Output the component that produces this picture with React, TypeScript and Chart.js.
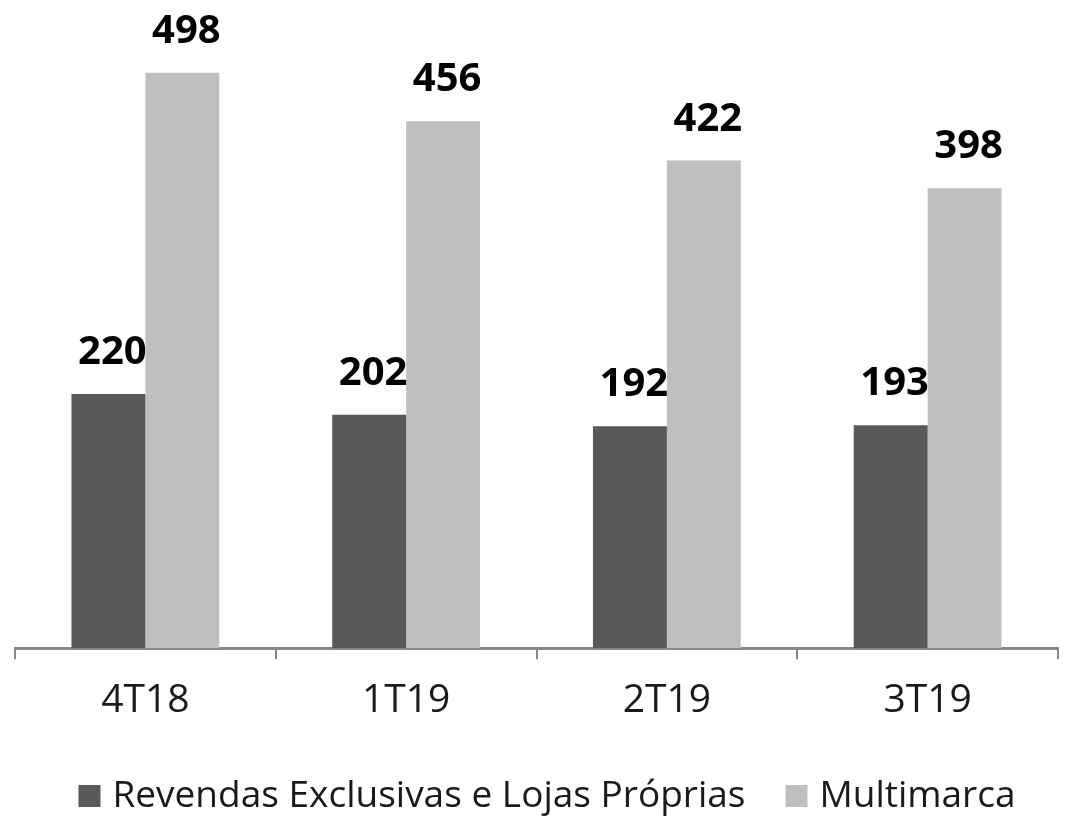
import React, { useEffect, useRef } from "react";
import { Chart, registerables } from "chart.js";

Chart.register(...registerables);

const categories = ["4T18", "1T19", "2T19", "3T19"];
const seriesNames = ["Revendas Exclusivas e Lojas Próprias", "Multimarca"];
const revendas = [220, 202, 192, 193];
const multimarca = [498, 456, 422, 398];
const colors = ["#595959", "#bfbfbf"];
const FONT = "'Open Sans', 'DejaVu Sans', sans-serif";

const valueLabels = {
  id: "valueLabels",
  afterDatasetsDraw(chart: any) {
    const ctx = chart.ctx;
    ctx.save();
    ctx.font = `bold 40px ${FONT}`;
    ctx.fillStyle = "#000000";
    ctx.textAlign = "center";
    ctx.textBaseline = "alphabetic";
    chart.data.datasets.forEach((ds: any, di: number) => {
      const meta = chart.getDatasetMeta(di);
      meta.data.forEach((bar: any, i: number) => {
        ctx.fillText(String(ds.data[i]), bar.x + 4, bar.y - 30);
      });
    });
    ctx.restore();
  },
};

const customLegend = {
  id: "customLegend",
  afterDraw(chart: any) {
    const ctx = chart.ctx;
    const box = 22;
    const gap = 12;
    const itemGap = 40;
    const cy = 796;
    ctx.save();
    ctx.font = `37px ${FONT}`;
    ctx.textBaseline = "middle";
    ctx.textAlign = "left";
    const items = chart.data.datasets.map((ds: any) => ({
      text: ds.label,
      color: ds.backgroundColor,
      w: ctx.measureText(ds.label).width,
    }));
    const total =
      items.reduce((s: number, it: any) => s + box + gap + it.w, 0) + itemGap * (items.length - 1);
    let x = 547 - total / 2;
    items.forEach((it: any) => {
      ctx.fillStyle = it.color;
      ctx.fillRect(x, cy - box / 2, box, box);
      x += box + gap;
      ctx.fillStyle = "#1a1a1a";
      ctx.fillText(it.text, x, cy);
      x += it.w + itemGap;
    });
    ctx.restore();
  },
};

export default function App() {
  const ref = useRef<HTMLCanvasElement>(null);
  useEffect(() => {
    if (!ref.current) return;
    const chart = new Chart(ref.current, {
      type: "bar",
      data: {
        labels: categories,
        datasets: [
          { label: seriesNames[0], data: revendas, backgroundColor: colors[0] },
          { label: seriesNames[1], data: multimarca, backgroundColor: colors[1] },
        ],
      },
      options: {
        animation: false,
        responsive: false,
        layout: { padding: { left: 15, right: 8, top: 0, bottom: 80 } },
        datasets: { bar: { barPercentage: 1, categoryPercentage: 0.567 } },
        scales: {
          x: {
            grid: {
              offset: true,
              drawOnChartArea: false,
              drawTicks: true,
              tickLength: 11,
              color: "#888888",
              lineWidth: 2,
            },
            border: { display: true, color: "#888888", width: 3 },
            ticks: { color: "#1a1a1a", font: { family: FONT, size: 39 }, padding: 18 },
          },
          y: { display: false, min: 0, max: 561 },
        },
        plugins: {
          legend: { display: false },
          tooltip: { enabled: false },
        },
      },
      plugins: [valueLabels, customLegend],
    });
    return () => chart.destroy();
  }, []);
  return (
    <div style={{ position: "fixed", left: 0, top: 0, width: 1066, height: 822, background: "#ffffff" }}>
      <canvas ref={ref} width={1066} height={822} />
    </div>
  );
}
